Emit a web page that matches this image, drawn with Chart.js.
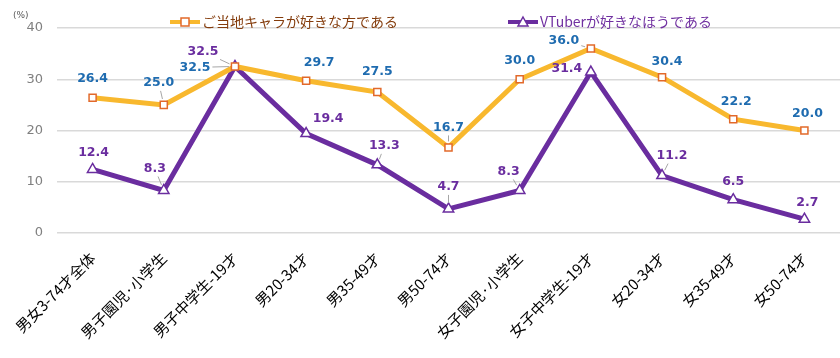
<!DOCTYPE html>
<html>
<head>
<meta charset="utf-8">
<script src="https://cdn.jsdelivr.net/npm/chart.js@4"></script>
<style>
  html, body { margin: 0; padding: 0; background: #fff; }
  #wrap { width: 840px; height: 358px; }
</style>
</head>
<body>
<div id="wrap"><canvas id="grafico"></canvas></div>
<script>
const categorias = ['男女3-74才全体', '男子園児·小学生', '男子中学生-19才', '男20-34才', '男35-49才', '男50-74才',
  '女子園児·小学生', '女子中学生-19才', '女20-34才', '女35-49才', '女50-74才'];
const nomesSeries = ['ご当地キャラが好きな方である', 'VTuberが好きなほうである'];
const gotouchi = [26.4, 25.0, 32.5, 29.7, 27.5, 16.7, 30.0, 36.0, 30.4, 22.2, 20.0];
const vtuber = [12.4, 8.3, 32.5, 19.4, 13.3, 4.7, 8.3, 31.4, 11.2, 6.5, 2.7];
const ticksY = [0, 10, 20, 30, 40];

// label placement (px offset from the point), and whether a leader line is drawn
const offsGotouchi = [[0,-19],[-5,-22],[-40,1],[13,-18],[0,-20],[0,-20],[0,-19],[-27,-8],[5,-15],[3,-17],[3,-17]];
const leadGotouchi = [0,1,1,0,0,1,0,1,0,0,0];
const offsVtuber = [[1,-17],[-9,-22],[-32,-15],[22,-15],[7,-19],[0,-22],[-11,-19],[-24,-3],[10,-20],[0,-18],[3,-16]];
const leadVtuber = [0,1,1,0,1,1,1,0,1,0,0];

const corLaranja = '#F8B82E';
const corMarcador = '#E2692A';
const corRoxo = '#6A2D9F';

const rotulos = {
  id: 'rotulos',
  afterDatasetsDraw(chart) {
    const ctx = chart.ctx;
    const cfg = [
      { offs: offsGotouchi, lead: leadGotouchi, cor: '#1F6CB0' },
      { offs: offsVtuber, lead: leadVtuber, cor: '#6A2D9F' }
    ];
    ctx.save();
    ctx.font = 'bold 12.5px "DejaVu Sans", Verdana, sans-serif';
    ctx.textAlign = 'center';
    ctx.textBaseline = 'middle';
    chart.data.datasets.forEach((ds, i) => {
      const meta = chart.getDatasetMeta(i);
      meta.data.forEach((pt, j) => {
        const [dx, dy] = cfg[i].offs[j];
        const lx = pt.x + dx, ly = pt.y + dy;
        const txt = ds.data[j].toFixed(1);
        if (cfg[i].lead[j]) {
          const w = ctx.measureText(txt).width / 2 + 2, h = 8;
          const vx = pt.x - lx, vy = pt.y - ly;
          const len = Math.hypot(vx, vy);
          const ux = vx / len, uy = vy / len;
          const t = Math.min(w / Math.abs(ux || 1e-6), h / Math.abs(uy || 1e-6));
          ctx.strokeStyle = '#A6A6A6';
          ctx.lineWidth = 1;
          ctx.beginPath();
          ctx.moveTo(lx + ux * t, ly + uy * t);
          ctx.lineTo(pt.x - ux * 6, pt.y - uy * 6);
          ctx.stroke();
        }
        ctx.fillStyle = cfg[i].cor;
        ctx.fillText(txt, lx, ly);
      });
    });
    ctx.restore();
  }
};

const legenda = {
  id: 'legenda',
  afterDraw(chart) {
    const ctx = chart.ctx;
    const area = chart.chartArea;
    const itens = [
      { x: area.left + 113, cor: '#843C0C', linha: corLaranja, borda: corMarcador, tipo: 'rect' },
      { x: area.left + 451, cor: '#7030A0', linha: corRoxo, borda: corRoxo, tipo: 'triangle' }
    ];
    const y = 22;
    ctx.save();
    itens.forEach((it, i) => {
      ctx.strokeStyle = it.linha;
      ctx.lineWidth = 4;
      ctx.beginPath();
      ctx.moveTo(it.x, y);
      ctx.lineTo(it.x + 30, y);
      ctx.stroke();
      ctx.fillStyle = '#fff';
      ctx.strokeStyle = it.borda;
      ctx.lineWidth = 1.5;
      ctx.beginPath();
      if (it.tipo === 'rect') {
        ctx.rect(it.x + 11, y - 4, 8, 8);
      } else {
        ctx.moveTo(it.x + 15, y - 5);
        ctx.lineTo(it.x + 20, y + 4);
        ctx.lineTo(it.x + 10, y + 4);
        ctx.closePath();
      }
      ctx.fill();
      ctx.stroke();
      ctx.font = '14px "Noto Sans CJK JP", sans-serif';
      ctx.textAlign = 'left';
      ctx.textBaseline = 'middle';
      ctx.fillStyle = it.cor;
      ctx.fillText(nomesSeries[i], it.x + 32, y);
    });
    ctx.font = '9px "DejaVu Sans", sans-serif';
    ctx.fillStyle = '#595959';
    ctx.textAlign = 'left';
    ctx.fillText('(%)', 13, 16);
    ctx.restore();
  }
};

const ctx = document.getElementById('grafico').getContext('2d');

const grafico = new Chart(ctx, {
  type: 'line',
  data: {
    labels: categorias,
    datasets: [{
      label: nomesSeries[0],
      data: gotouchi,
      borderColor: corLaranja,
      borderWidth: 5,
      pointStyle: 'rect',
      pointRadius: 5,
      pointBorderWidth: 1.5,
      pointBorderColor: corMarcador,
      pointBackgroundColor: '#fff',
      tension: 0
    }, {
      label: nomesSeries[1],
      data: vtuber,
      borderColor: corRoxo,
      borderWidth: 5,
      pointStyle: 'triangle',
      pointRadius: 6,
      pointBorderWidth: 1.5,
      pointBorderColor: corRoxo,
      pointBackgroundColor: '#fff',
      tension: 0
    }]
  },
  options: {
    responsive: true,
    maintainAspectRatio: false,
    animation: false,
    layout: { autoPadding: false, padding: { top: 28, right: -3, left: 0, bottom: 0 } },
    plugins: {
      legend: { display: false },
      tooltip: { enabled: false }
    },
    scales: {
      x: {
        offset: true,
        grid: { display: false, drawTicks: false },
        border: { display: false },
        ticks: {
          autoSkip: false,
          maxRotation: 45,
          minRotation: 45,
          padding: 16,
          color: '#000',
          font: { size: 15, family: '"Noto Sans CJK JP", sans-serif' }
        },
        afterFit(scale) {
          scale.height = 125;
          scale.paddingLeft = 0;
          scale.paddingRight = 0;
        }
      },
      y: {
        min: 0,
        max: 40,
        afterBuildTicks(scale) { scale.ticks = ticksY.map(v => ({ value: v })); },
        grid: { color: '#D9D9D9', lineWidth: 1.5, drawTicks: false },
        border: { display: false },
        ticks: {
          padding: 14,
          color: '#808080',
          font: { size: 13, family: '"DejaVu Sans", Verdana, sans-serif' }
        },
        afterFit(scale) { scale.width = 57; }
      }
    }
  },
  plugins: [rotulos, legenda]
});
</script>
</body>
</html>
